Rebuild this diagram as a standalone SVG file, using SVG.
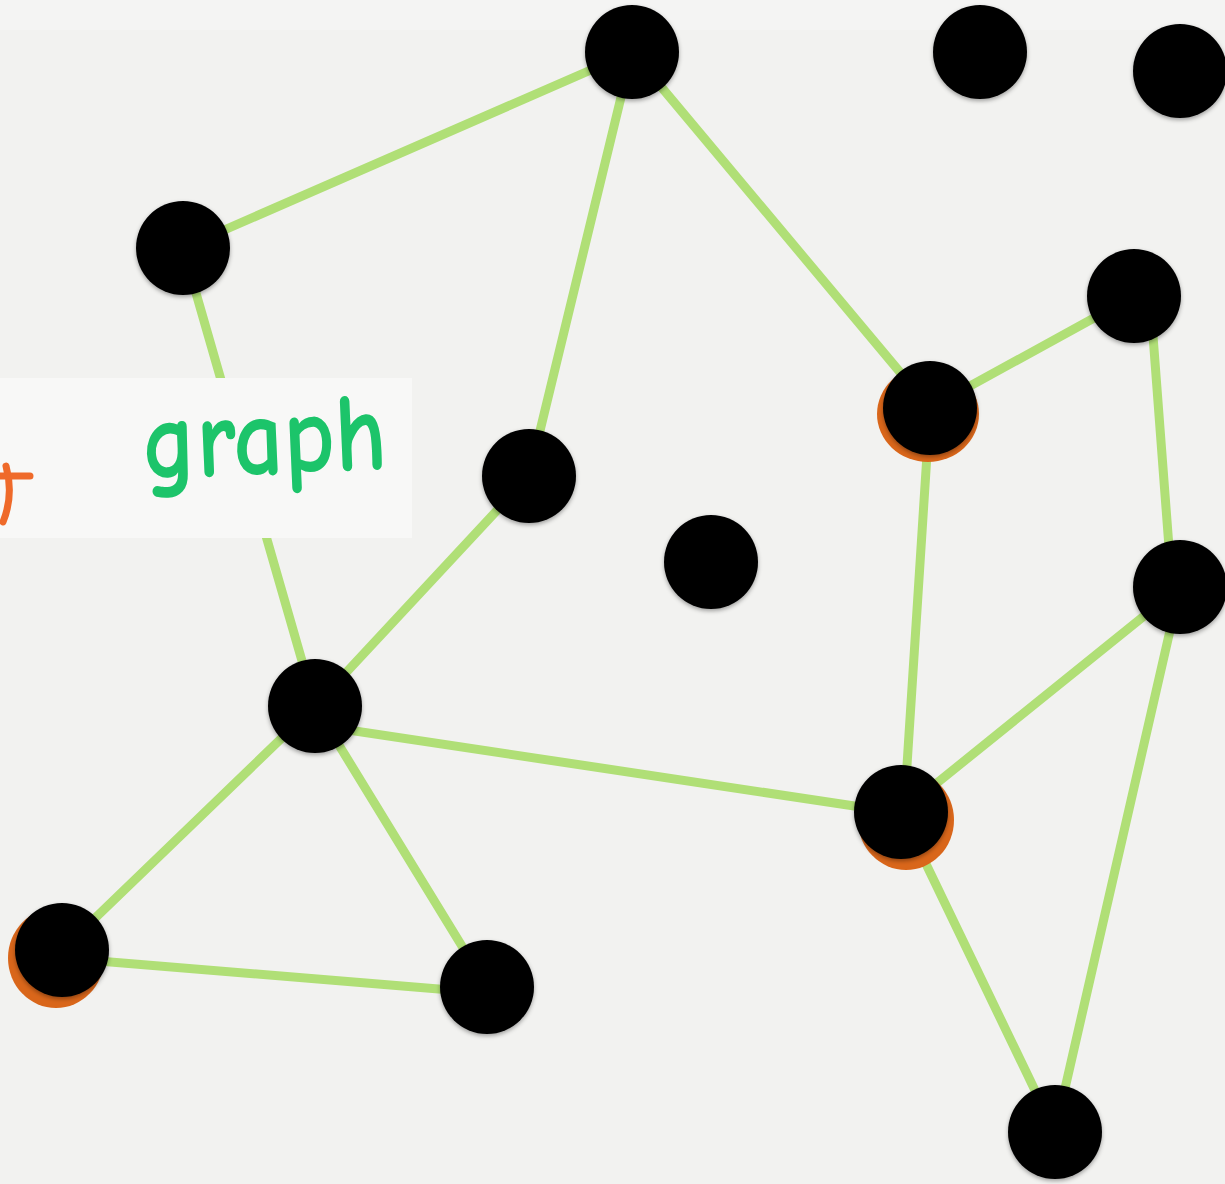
<svg xmlns="http://www.w3.org/2000/svg" width="1225" height="1184" viewBox="0 0 1225 1184">
<defs>
<style>
.edge{stroke:#b0df76;stroke-width:9;stroke-linecap:round;fill:none}
.node{fill:#000}
.smudge{fill:#d9661a}
.label{font-family:"Comic Neue","Liberation Sans",sans-serif;font-size:112px;font-weight:bold;fill:#1cc46a}
</style>
<filter id="sh" x="-20%" y="-20%" width="140%" height="140%"><feDropShadow dx="0" dy="2" stdDeviation="2" flood-color="#000" flood-opacity="0.35"/></filter>
</defs>
<rect width="1225" height="1184" fill="#f2f2f0"/>
<rect x="0" y="0" width="1225" height="30" fill="#f4f4f3"/>
<g id="connectors">
<line class="edge" x1="632" y1="52" x2="183" y2="248"/>
<line class="edge" x1="632" y1="52" x2="529" y2="476"/>
<line class="edge" x1="632" y1="52" x2="930" y2="408"/>
<line class="edge" x1="183" y1="248" x2="315" y2="706"/>
<line class="edge" x1="529" y1="476" x2="315" y2="706"/>
<line class="edge" x1="930" y1="408" x2="1134" y2="296"/>
<line class="edge" x1="1150" y1="296" x2="1172" y2="587"/>
<line class="edge" x1="930" y1="408" x2="904" y2="812"/>
<line class="edge" x1="315" y1="725" x2="901" y2="813"/>
<line class="edge" x1="1180" y1="587" x2="901" y2="812"/>
<line class="edge" x1="1180" y1="587" x2="1055" y2="1132"/>
<line class="edge" x1="901" y1="812" x2="1055" y2="1132"/>
<line class="edge" x1="315" y1="706" x2="62" y2="950"/>
<line class="edge" x1="315" y1="706" x2="487" y2="987"/>
<line class="edge" x1="62" y1="958" x2="487" y2="993"/>
</g>
<g id="label">
<rect x="0" y="378" width="412" height="160" fill="#f8f8f7"/>
<path d="M6 466 Q14 495 3 522 M0 476 L30 476" stroke="#ef6a2a" stroke-width="7" fill="none" stroke-linecap="round"/>
<text class="label" x="143" y="474" textLength="245" lengthAdjust="spacingAndGlyphs" transform="rotate(-2.5 265 465)">graph</text>
</g>
<g id="smudges">
<ellipse class="smudge" cx="928" cy="414" rx="51" ry="48"/>
<ellipse class="smudge" cx="906" cy="820" rx="48" ry="50"/>
<ellipse class="smudge" cx="56" cy="958" rx="48" ry="50"/>
</g>
<g id="n1"><circle class="node" filter="url(#sh)" cx="632" cy="52" r="47"/></g>
<g id="n2"><circle class="node" filter="url(#sh)" cx="980" cy="52" r="47"/></g>
<g id="n3"><circle class="node" filter="url(#sh)" cx="1180" cy="71" r="47"/></g>
<g id="n4"><circle class="node" filter="url(#sh)" cx="183" cy="248" r="47"/></g>
<g id="n5"><circle class="node" filter="url(#sh)" cx="1134" cy="296" r="47"/></g>
<g id="n6"><circle class="node" filter="url(#sh)" cx="930" cy="408" r="47"/></g>
<g id="n7"><circle class="node" filter="url(#sh)" cx="529" cy="476" r="47"/></g>
<g id="n8"><circle class="node" filter="url(#sh)" cx="711" cy="562" r="47"/></g>
<g id="n9"><circle class="node" filter="url(#sh)" cx="1180" cy="587" r="47"/></g>
<g id="n10"><circle class="node" filter="url(#sh)" cx="315" cy="706" r="47"/></g>
<g id="n11"><circle class="node" filter="url(#sh)" cx="901" cy="812" r="47"/></g>
<g id="n12"><circle class="node" filter="url(#sh)" cx="62" cy="950" r="47"/></g>
<g id="n13"><circle class="node" filter="url(#sh)" cx="487" cy="987" r="47"/></g>
<g id="n14"><circle class="node" filter="url(#sh)" cx="1055" cy="1132" r="47"/></g>
</svg>
